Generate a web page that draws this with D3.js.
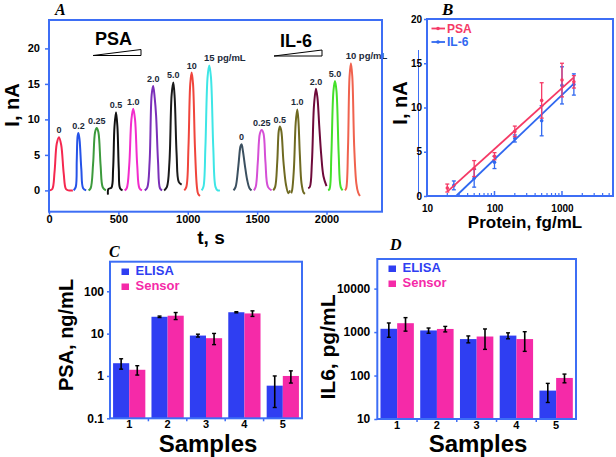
<!DOCTYPE html>
<html><head><meta charset="utf-8">
<script src="https://cdn.jsdelivr.net/npm/d3@7"></script>
<style>body{margin:0;background:#fff}svg{display:block}text{font-family:"Liberation Sans",Arial,sans-serif;font-weight:bold}</style>
</head><body><svg id="c" width="616" height="457"></svg>
<script>
// ---------------- DATA ----------------
// Panel A: amperometric traces [t (s), I (nA)]
const psaLabels = ["0","0.2","0.25","0.5","1.0","2.0","5.0","10","15"];
const psaTraces = [
  [[7,0],[24,0.2],[40,2.6],[56,6.6],[72,7.5],[88,6.4],[106,2.4],[122,0.2],[140,0],[172,0]],
  [[178,0],[193,0.5],[200,4.2],[206,7.6],[212,8.1],[220,7.2],[233,3.0],[246,0.3],[268,0]],
  [[285,0],[300,0.3],[318,3.8],[332,8.2],[344,8.8],[356,8.2],[372,3.5],[388,0.4],[410,0]],
  [[425,-0.6],[428,0.2],[450,0.4],[462,3],[472,9],[483,11],[493,9],[503,3],[512,0.3],[530,0]],
  [[545,0],[560,0.3],[578,3.5],[594,10],[607,11.5],[620,10],[636,3.5],[652,0.3],[670,0]],
  [[690,0],[708,0.4],[725,4],[740,13.5],[751,14.7],[762,13],[772,10.5],[786,4],[800,0.3],[815,0]],
  [[830,0],[850,0.5],[868,4],[884,13.5],[896,15.2],[906,13],[920,5],[935,1.2],[956,0.8]],
  [[975,0],[990,0.5],[1005,6],[1018,15],[1028,16.6],[1038,15],[1052,6],[1066,0.5],[1075,-0.5],[1088,-0.8]],
  [[1100,0],[1113,0.5],[1127,6],[1143,16],[1155,17.6],[1167,16],[1184,6],[1200,0.5],[1215,0],[1232,0]]
];
const il6Labels = ["0","0.25","0.5","1.0","2.0","5.0","10"];
const il6Traces = [
  [[1330,0],[1345,0.5],[1365,3.5],[1380,6.2],[1388,6.5],[1398,5.5],[1412,3.5],[1428,1.5],[1445,0.3],[1460,0]],
  [[1477,0],[1490,0.5],[1505,4],[1520,8],[1533,8.5],[1546,8],[1560,4],[1578,0.5],[1604,0]],
  [[1616,0],[1630,0.5],[1645,4],[1656,8.4],[1664,9.0],[1674,8.4],[1690,4],[1708,0.8],[1725,-0.4],[1737,0]],
  [[1745,-0.4],[1752,0],[1765,3],[1778,9.5],[1789,11.4],[1797,10],[1808,5],[1820,1],[1835,-0.3],[1845,-0.5]],
  [[1868,0.3],[1880,0.5],[1895,4],[1910,12],[1924,14.3],[1935,13],[1948,9],[1962,5],[1978,2],[2000,0.6]],
  [[2012,0],[2022,0.2],[2035,5],[2050,14],[2061,15.4],[2072,14],[2088,5],[2102,0.5],[2116,0]],
  [[2133,0],[2142,0.3],[2155,6],[2166,16],[2176,17.9],[2186,16],[2200,6],[2215,1],[2228,-0.3],[2241,-0.8]]
];
const aXTicks = [0,500,1000,1500,2000];
const aYTicks = [0,5,10,15,20];

// Panel B: calibration (fg/mL vs nA)
const bConcPSA = [20,50,100,200,500,1000,1500];
const bPSA     = [0.9,3.1,4.5,7.3,10.8,13.1,12.9];
const bPSAErr  = [0.45,0.9,0.4,0.6,2.0,1.9,0.7];
const bConcIL6 = [25,50,100,200,500,1000,1500];
const bIL6     = [1.2,2.0,3.8,6.5,8.5,12.5,12.6];
const bIL6Err  = [0.5,1.0,0.7,0.4,1.7,2.1,1.2];
const fitConcPSA = [20,1500], fitPSA = [0.5,13.4];
const fitConcIL6 = [27,1500], fitIL6 = [0,12.7];
const bXTicks = [10,100,1000];
const bYTicks = [0,5,10,15,20];

// Panel C: PSA ng/mL
const samples = ["1","2","3","4","5"];
const cElisa = [2.0,25,9.0,32,0.59];
const cElisaErr = [0.55,1,0.7,1,0.41];
const cSensor = [1.4,26.5,7.8,30,1.0];
const cSensorErr = [0.35,5,2.3,4.5,0.32];
const cYTicks = [0.1,1,10,100];

// Panel D: IL6 pg/mL
const dElisa = [1190,1090,690,830,45];
const dElisaErr = [430,150,125,130,21];
const dSensor = [1600,1180,790,690,88];
const dSensorErr = [550,170,390,330,20];
const dYTicks = [10,100,1000,10000];

// ---------------- STYLE ----------------
const AX = "#3d6ef5";
const BLUE = "#2f3ef2", PINK = "#f52aa8";
const psaColors = ["#f5284f","#2553e8","#3c9a3c","#111111","#f22ccc","#7a2fb8","#1a1a1a","#f0453c","#3ee6e6"];
const il6Colors = ["#3b5060","#d54fd6","#6f6a22","#6f6a22","#6e0a3a","#44e02a","#f0624e"];

const svg = d3.select("#c");

function styleAxis(g, fs) {
  g.select(".domain").remove();
  g.selectAll(".tick line").attr("stroke", AX).attr("stroke-width", 1.5);
  g.selectAll(".tick text").attr("fill", "#000").style("font-size", fs + "px").style("font-weight", "bold")
    .style("font-family", '"Liberation Sans", Arial, sans-serif');
}
function panelLetter(x, y, s, fs) {
  svg.append("text").attr("x", x).attr("y", y).text(s)
    .style("font-family", '"Liberation Serif", "Times New Roman", serif')
    .style("font-style", "italic").style("font-weight", "bold").style("font-size", fs + "px");
}
function rotTitle(x, y, s, fs) {
  svg.append("text").attr("transform", `translate(${x},${y}) rotate(-90)`)
    .attr("text-anchor", "middle").style("font-size", fs + "px").text(s);
}

// ---------------- PANEL A ----------------
const xA = d3.scaleLinear().domain([0, 2400]).range([49, 382]);
const yA = d3.scaleLinear().domain([-3, 24]).range([211.7, 20]);
const lineA = d3.line().x(d => xA(d[0])).y(d => yA(d[1])).curve(d3.curveCatmullRom.alpha(0.5));
const gA = svg.append("g");

function drawTraces(traces, labels, colors) {
  traces.forEach((tr, i) => {
    gA.append("path").attr("d", lineA(tr)).attr("fill", "none")
      .attr("stroke", colors[i]).attr("stroke-width", 2).attr("stroke-linejoin", "round");
    const top = tr.reduce((a, b) => b[1] > a[1] ? b : a);
    const tx = xA(top[0]), ty = yA(top[1]) - 4;
    if (i === traces.length - 1) {
      const t = gA.append("text").attr("x", tx).attr("y", ty).attr("fill", "#1c2a3a")
        .style("font-size", "9.5px").text(labels[i]);
      const w = t.node().getComputedTextLength();
      t.attr("x", tx - w / 2).text(labels[i] + " pg/mL");
    } else {
      gA.append("text").attr("x", tx).attr("y", ty).attr("text-anchor", "middle")
        .attr("fill", "#1c2a3a").style("font-size", "9px").text(labels[i]);
    }
  });
}
drawTraces(psaTraces, psaLabels, psaColors);
drawTraces(il6Traces, il6Labels, il6Colors);

gA.append("rect").attr("x", 49).attr("y", 20).attr("width", 333).attr("height", 191.7)
  .attr("fill", "none").attr("stroke", AX).attr("stroke-width", 2);
gA.append("g").attr("transform", "translate(49,0)")
  .call(d3.axisLeft(yA).tickValues(aYTicks).tickSize(4).tickPadding(5)).call(g => styleAxis(g, 11));
gA.append("g").attr("transform", "translate(0,211.7)")
  .call(d3.axisBottom(xA).tickValues(aXTicks).tickFormat(d3.format("d")).tickSize(3).tickPadding(1)).call(g => styleAxis(g, 11));

svg.append("text").attr("x", 95).attr("y", 45).style("font-size", "18px").text("PSA");
svg.append("polygon").attr("points", "93,55.5 141,55.5 141,49.5").attr("fill", "#fff").attr("stroke", "#000").attr("stroke-width", 1);
svg.append("text").attr("x", 280).attr("y", 46.5).style("font-size", "18px").text("IL-6");
svg.append("polygon").attr("points", "274,56 322,56 322,50").attr("fill", "#fff").attr("stroke", "#000").attr("stroke-width", 1);
rotTitle(19, 105, "I, nA", 20);
svg.append("text").attr("x", 211).attr("y", 243.5).attr("text-anchor", "middle").style("font-size", "19px").text("t, s");
panelLetter(55, 15, "A", 16);

// ---------------- PANEL B ----------------
const xB = d3.scaleLog().domain([10, 5700]).range([427, 613]);
const yB = d3.scaleLinear().domain([0, 20]).range([196, 19]);
const gB = svg.append("g");
gB.append("line").attr("x1", 418.5).attr("x2", 418.5).attr("y1", 50).attr("y2", 197).attr("stroke", AX).attr("stroke-width", 1);

const lineB = d3.line().x(d => xB(d[0])).y(d => yB(d[1]));
function drawSeries(conc, vals, errs, fc, fv, color) {
  gB.append("path").attr("d", lineB(fc.map((c, i) => [c, fv[i]]))).attr("stroke", color).attr("stroke-width", 1.8).attr("fill", "none");
  conc.forEach((c, i) => {
    const x = xB(c), y0 = yB(vals[i] - errs[i]), y1 = yB(vals[i] + errs[i]);
    gB.append("line").attr("x1", x).attr("x2", x).attr("y1", y0).attr("y2", y1).attr("stroke", color).attr("stroke-width", 1.3);
    [y0, y1].forEach(y => gB.append("line").attr("x1", x - 2).attr("x2", x + 2).attr("y1", y).attr("y2", y).attr("stroke", color).attr("stroke-width", 1.3));
    gB.append("circle").attr("cx", x).attr("cy", yB(vals[i])).attr("r", 1.8).attr("fill", color);
  });
}
const RED_B = "#f53a66", BLUE_B = "#3068f0";
drawSeries(bConcIL6, bIL6, bIL6Err, fitConcIL6, fitIL6, BLUE_B);
drawSeries(bConcPSA, bPSA, bPSAErr, fitConcPSA, fitPSA, RED_B);

gB.append("rect").attr("x", 427).attr("y", 19).attr("width", 186).attr("height", 177)
  .attr("fill", "none").attr("stroke", AX).attr("stroke-width", 2);
gB.append("g").attr("transform", "translate(427,0)")
  .call(d3.axisLeft(yB).tickValues(bYTicks).tickSize(3).tickPadding(2)).call(g => styleAxis(g, 10));
gB.append("g").attr("transform", "translate(0,196)")
  .call(d3.axisBottom(xB).tickValues(bXTicks).tickFormat(d3.format("d")).tickSize(0).tickPadding(8.5)).call(g => styleAxis(g, 10));
// minor/major inward ticks
const minor = [];
[10, 100, 1000].forEach(dec => { for (let k = 2; k <= 9; k++) if (dec * k <= 5700) minor.push(dec * k); });
gB.selectAll(".mt").data(minor).join("line").attr("x1", d => xB(d)).attr("x2", d => xB(d))
  .attr("y1", 196).attr("y2", 193).attr("stroke", AX).attr("stroke-width", 1.2);
gB.selectAll(".Mt").data([100, 1000]).join("line").attr("x1", d => xB(d)).attr("x2", d => xB(d))
  .attr("y1", 196).attr("y2", 191).attr("stroke", AX).attr("stroke-width", 1.5);

// legend
[[RED_B, "PSA", 28.5], [BLUE_B, "IL-6", 42]].forEach(([c, t, y]) => {
  gB.append("line").attr("x1", 431.5).attr("x2", 445).attr("y1", y).attr("y2", y).attr("stroke", c).attr("stroke-width", 1.8);
  gB.append("circle").attr("cx", 438).attr("cy", y).attr("r", 1.8).attr("fill", c);
  gB.append("text").attr("x", 447).attr("y", y + 4.3).attr("fill", c).style("font-size", "12px").text(t);
});
rotTitle(407, 103, "I, nA", 20);
svg.append("text").attr("x", 525).attr("y", 228).attr("text-anchor", "middle").style("font-size", "17px").text("Protein, fg/mL");
panelLetter(442, 15, "B", 17);

// ---------------- BAR PANELS ----------------
function barPanel(x0, x1, yTop, yBot, domain, yTicks, el, elE, se, seE, fmt, tickPad) {
  const x = d3.scaleBand().domain(samples).range([x0, x1]).paddingInner(0.16).paddingOuter(0.08);
  const y = d3.scaleLog().domain(domain).range([yBot, yTop]);
  const g = svg.append("g");
  const bw = x.bandwidth() / 2;
  [[el, elE, BLUE, 0], [se, seE, PINK, 1]].forEach(([v, e, col, k]) => {
    samples.forEach((s, i) => {
      g.append("rect").attr("x", x(s) + k * bw).attr("y", y(v[i])).attr("width", bw).attr("height", yBot - y(v[i])).attr("fill", col);
    });
  });
  [[el, elE, 0], [se, seE, 1]].forEach(([v, e, k]) => {
    samples.forEach((s, i) => {
      const cx = x(s) + k * bw + bw / 2;
      const a = y(Math.max(v[i] - e[i], domain[0])), b = y(v[i] + e[i]);
      g.append("line").attr("x1", cx).attr("x2", cx).attr("y1", a).attr("y2", b).attr("stroke", "#000").attr("stroke-width", 1.6);
      [a, b].forEach(yy => g.append("line").attr("x1", cx - 2).attr("x2", cx + 2).attr("y1", yy).attr("y2", yy).attr("stroke", "#000").attr("stroke-width", 1.4));
    });
  });
  g.append("rect").attr("x", x0).attr("y", yTop).attr("width", x1 - x0).attr("height", yBot - yTop)
    .attr("fill", "none").attr("stroke", AX).attr("stroke-width", 2);
  g.append("g").attr("transform", `translate(${x0},0)`)
    .call(d3.axisLeft(y).tickValues(yTicks).tickFormat(fmt).tickSize(3).tickPadding(tickPad)).call(gg => styleAxis(gg, 12));
  g.append("g").attr("transform", `translate(0,${yBot})`)
    .call(d3.axisBottom(x).tickSize(0).tickPadding(2)).call(gg => styleAxis(gg, 11));
  const bounds = samples.slice(1).map(s => x(s) - x.step() * x.paddingInner() / 2);
  g.selectAll(".bt").data(bounds).join("line").attr("x1", d => d).attr("x2", d => d)
    .attr("y1", yBot).attr("y2", yBot + 3).attr("stroke", AX).attr("stroke-width", 1.5);
  return g;
}
function barLegend(x, y1, y2) {
  [[BLUE, "ELISA", y1], [PINK, "Sensor", y2]].forEach(([c, t, y]) => {
    svg.append("rect").attr("x", x).attr("y", y - 6.5).attr("width", 7.5).attr("height", 6.5).attr("fill", c);
    svg.append("text").attr("x", x + 14).attr("y", y).attr("fill", c).style("font-size", "13px").text(t);
  });
}

// Panel C
barPanel(110, 302, 261.7, 418.3, [0.1, 500], cYTicks, cElisa, cElisaErr, cSensor, cSensorErr, d3.format("~g"), 3);
barLegend(121.5, 275, 290);
rotTitle(73, 335, "PSA, ng/mL", 20);
svg.append("text").attr("x", 208).attr("y", 452).attr("text-anchor", "middle").style("font-size", "24px").text("Samples");
panelLetter(109, 257, "C", 16);

// Panel D
barPanel(377.3, 576, 259, 419, [10, 48000], dYTicks, dElisa, dElisaErr, dSensor, dSensorErr, d3.format("d"), 4);
barLegend(388.5, 272, 287);
rotTitle(335, 347, "IL6, pg/mL", 21);
svg.append("text").attr("x", 478).attr("y", 452).attr("text-anchor", "middle").style("font-size", "24px").text("Samples");
panelLetter(390, 250, "D", 16);
</script></body></html>
